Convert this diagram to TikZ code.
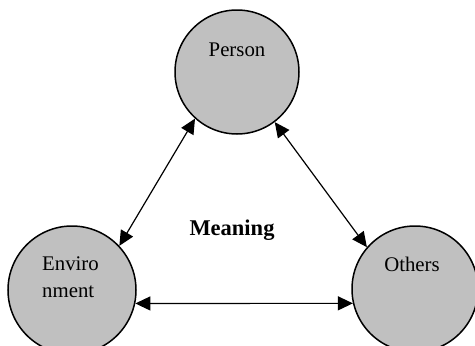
\documentclass[tikz,border=0pt]{standalone}
\usepackage{fontspec}
\setmainfont{Liberation Serif}
\usetikzlibrary{arrows.meta,calc}
\definecolor{circgrey}{HTML}{C0C0C0}
\begin{document}
\begin{tikzpicture}[x=1pt,y=-1pt,
  ent/.style={circle,draw=black,line width=1.5pt,fill=circgrey,inner sep=0pt,minimum size=#1},
  lbl/.style={inner sep=0pt,font=\fontsize{20.8}{27.7}\selectfont},
  link/.style={line width=1.2pt,{Triangle[length=15pt,width=14pt]}-{Triangle[length=15pt,width=14pt]}}]
\clip (0,0) rectangle (475,346);
\useasboundingbox (0,0) rectangle (475,346);
\node[ent=124pt] (P) at (237,72) {};
\node[ent=128pt] (E) at (72,290) {};
\node[ent=126pt] (O) at (415,289) {};
\node[lbl,anchor=base] (tp) at (237,56.7) {Person};
\node[lbl,anchor=base west,align=left] (te) at (42,297.7) {Enviro\\nment};
\node[lbl,anchor=base] (to) at (412,271) {Others};
\node[lbl,anchor=base,font=\fontsize{22.5}{27}\selectfont\bfseries] (m) at (232,235) {Meaning};
\draw[link] (P.228) -- (E.43.7);
\draw[link] (P.-53) -- (O.139);
\draw[link] (E.-12) -- (O.193);
\end{tikzpicture}
\end{document}
